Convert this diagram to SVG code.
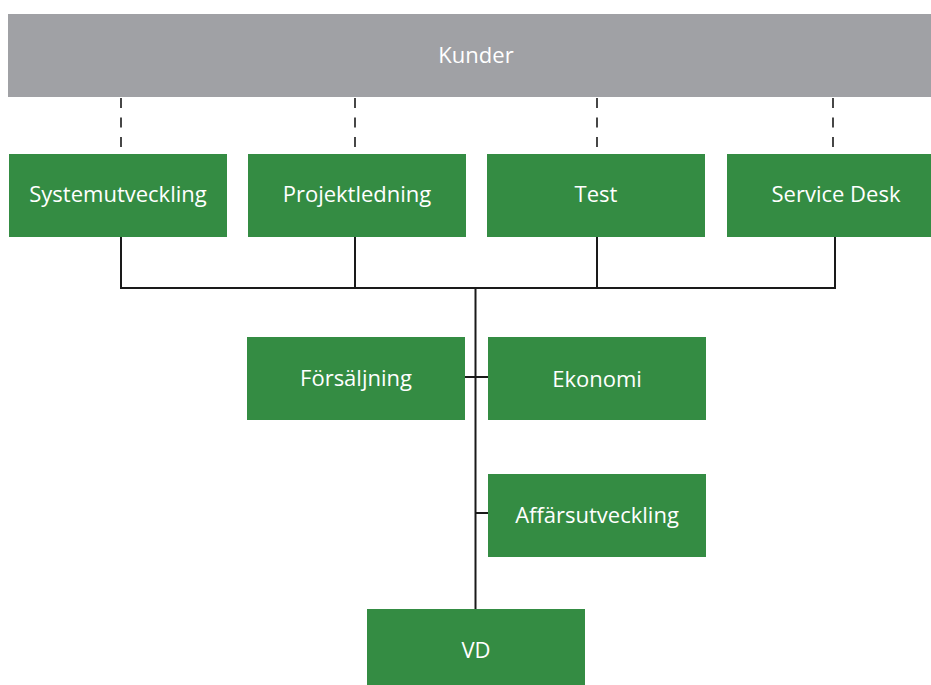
<svg xmlns="http://www.w3.org/2000/svg" width="931" height="685" viewBox="0 0 931 685">
<style>
.box{fill:#348c43}
.gray{fill:#a0a1a5}
.lbl{font-family:"Open Sans","Liberation Sans",sans-serif;font-size:22px;fill:#ffffff;text-anchor:middle}
.solid{stroke:#1a1a1a;stroke-width:2;fill:none}
.dash{stroke:#1a1a1a;stroke-width:1.6;stroke-dasharray:10 9.5;fill:none}
</style>
<rect width="931" height="685" fill="#ffffff"/>
<g id="connectors">
<line class="dash" x1="121" y1="98" x2="121" y2="150"/>
<line class="dash" x1="355" y1="98" x2="355" y2="150"/>
<line class="dash" x1="597" y1="98" x2="597" y2="150"/>
<line class="dash" x1="833" y1="98" x2="833" y2="150"/>
<polyline class="solid" points="121,237 121,288 835,288 835,237"/>
<line class="solid" x1="355" y1="237" x2="355" y2="288"/>
<line class="solid" x1="597" y1="237" x2="597" y2="288"/>
<line class="solid" x1="475.5" y1="288" x2="475.5" y2="609"/>
<line class="solid" x1="465" y1="377" x2="488" y2="377"/>
<line class="solid" x1="475" y1="513" x2="488" y2="513"/>
</g>
<g id="kunder"><rect class="gray" x="8" y="14" width="936" height="83"/><text class="lbl" x="476" y="63">Kunder</text></g>
<g id="systemutveckling"><rect class="box" x="9" y="154" width="218" height="83"/><text class="lbl" x="118" y="202">Systemutveckling</text></g>
<g id="projektledning"><rect class="box" x="248" y="154" width="218" height="83"/><text class="lbl" x="357" y="202">Projektledning</text></g>
<g id="test"><rect class="box" x="487" y="154" width="218" height="83"/><text class="lbl" x="596" y="202">Test</text></g>
<g id="servicedesk"><rect class="box" x="727" y="154" width="218" height="83"/><text class="lbl" x="836" y="202">Service Desk</text></g>
<g id="forsaljning"><rect class="box" x="247" y="337" width="218" height="83"/><text class="lbl" x="356" y="386">Försäljning</text></g>
<g id="ekonomi"><rect class="box" x="488" y="337" width="218" height="83"/><text class="lbl" x="597" y="387">Ekonomi</text></g>
<g id="affarsutveckling"><rect class="box" x="488" y="474" width="218" height="83"/><text class="lbl" x="597" y="523">Affärsutveckling</text></g>
<g id="vd"><rect class="box" x="367" y="609" width="218" height="83"/><text class="lbl" x="476" y="658">VD</text></g>
</svg>
